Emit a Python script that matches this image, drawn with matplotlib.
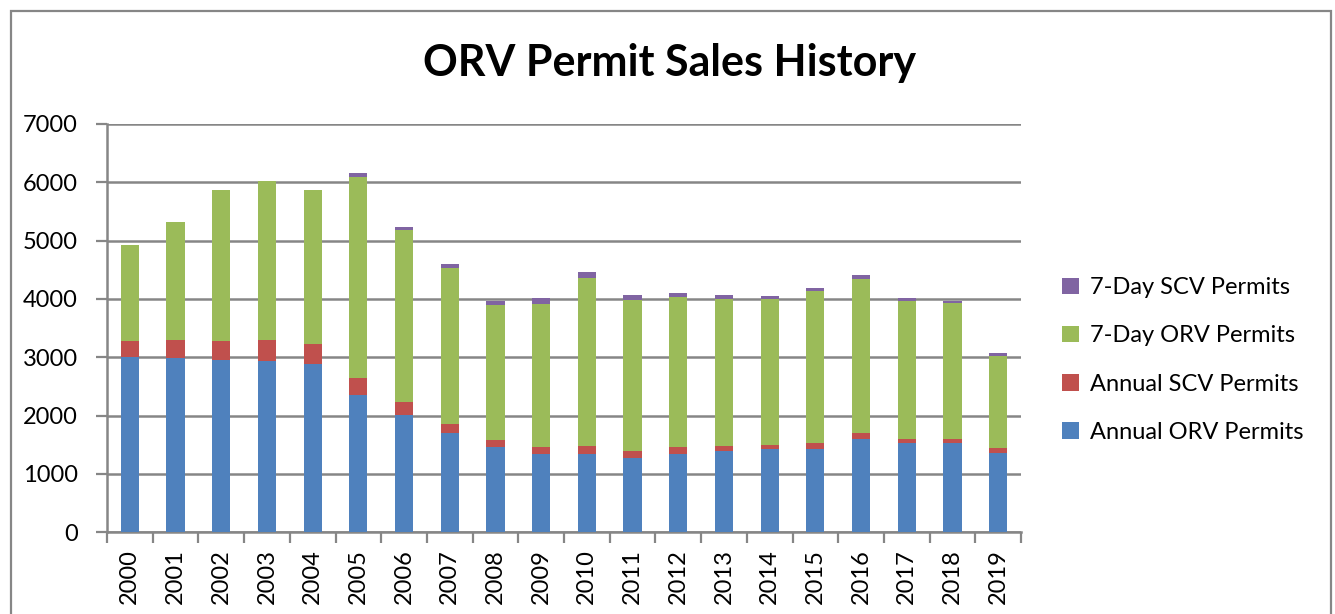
import matplotlib
matplotlib.use("Agg")
import matplotlib.pyplot as plt
import numpy as np
from matplotlib.patches import Rectangle

years = ["2000", "2001", "2002", "2003", "2004", "2005", "2006", "2007", "2008", "2009",
         "2010", "2011", "2012", "2013", "2014", "2015", "2016", "2017", "2018", "2019"]
annual_orv = [3000, 2980, 2960, 2937, 2880, 2349, 2005, 1695, 1455, 1335,
              1350, 1277, 1335, 1390, 1420, 1430, 1597, 1528, 1528, 1352]
annual_scv = [280, 315, 320, 360, 354, 291, 230, 170, 135, 130,
              138, 120, 120, 92, 80, 103, 97, 74, 74, 96]
day7_orv = [1650, 2025, 2595, 2732, 2640, 3457, 2940, 2660, 2300, 2447,
            2875, 2578, 2572, 2510, 2498, 2596, 2652, 2356, 2322, 1569]
day7_scv = [0, 0, 0, 0, 0, 68, 57, 80, 68, 103,
            108, 86, 80, 80, 46, 57, 57, 57, 34, 57]
series_names = ["Annual ORV Permits", "Annual SCV Permits", "7-Day ORV Permits", "7-Day SCV Permits"]
colors = ["#4F81BD", "#C0504D", "#9BBB59", "#8064A2"]
yticks = [0, 1000, 2000, 3000, 4000, 5000, 6000, 7000]

plt.rcParams['font.family'] = ['Lato', 'DejaVu Sans']

W, H = 1335, 614
fig = plt.figure(figsize=(W / 100, H / 100), dpi=100)
fig.patch.set_facecolor("white")

gray = "#868686"
# outer chart border
fig.patches.append(Rectangle((11 / W, -0.05), (1331 - 11) / W, (H - 11) / H + 0.05,
                             transform=fig.transFigure, fill=False, edgecolor=gray,
                             linewidth=1.6, zorder=0))

left, right, top, bottom = 107, 1021, 124, 532.3
ax = fig.add_axes([left / W, (H - bottom) / H, (right - left) / W, (bottom - top) / H])

x = np.arange(len(years))
series = [annual_orv, annual_scv, day7_orv, day7_scv]
base = np.zeros(len(years))
handles = []
for vals, name, c in zip(series, series_names, colors):
    v = np.array(vals, dtype=float)
    b = ax.bar(x, v, width=0.4, bottom=base, color=c, edgecolor="none", label=name, zorder=3)
    handles.append(b)
    base += v

ax.set_xlim(-0.5, len(years) - 0.5)
ax.set_ylim(0, 7000)
ax.set_yticks(yticks)
ax.set_yticklabels([str(t) for t in yticks], fontsize=17)
ax.set_xticks(x)
ax.set_xticklabels(years, rotation=90, fontsize=17)
ax.set_xticks(np.arange(-0.5, len(years), 1.0), minor=True)
ax.tick_params(axis="x", which="major", length=0, pad=12)
ax.tick_params(axis="x", which="minor", length=8, width=1.6, color=gray)
ax.tick_params(axis="y", length=8, width=1.6, color=gray, pad=13)

ax.grid(axis="y", color=gray, linewidth=1.8, zorder=0)
ax.set_axisbelow(True)
for s in ["top", "right"]:
    ax.spines[s].set_visible(False)
for s in ["left", "bottom"]:
    ax.spines[s].set_color(gray)
    ax.spines[s].set_linewidth(1.8)

fig.text(669.5 / W, 1 - 63 / H, "ORV Permit Sales History", ha="center", va="center",
         fontsize=31, fontweight="bold")

leg = fig.legend(handles[::-1], series_names[::-1], loc="center left",
                 bbox_to_anchor=(1053 / W, 1 - 360 / H), frameon=False, fontsize=17,
                 handlelength=0.7, handleheight=0.7, handletextpad=0.45, labelspacing=1.15,
                 borderaxespad=0)

fig.savefig("out.png", dpi=100)
